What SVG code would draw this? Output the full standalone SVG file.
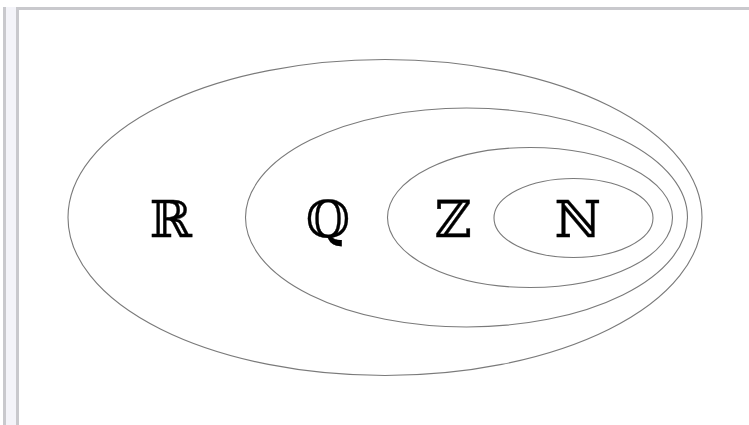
<svg xmlns="http://www.w3.org/2000/svg" width="749" height="425" viewBox="0 0 749 425">
<style>
.set{fill:none;stroke:#7a7a7a;stroke-width:1.1}
.lbl{font-family:"DejaVu Serif",serif;font-size:51px;fill:#000;stroke:#000;stroke-width:0.35;text-anchor:middle}
.frame{fill:#c9c9cd}
</style>
<rect width="749" height="425" fill="#fff"/>
<g id="frame">
<rect class="frame" x="3" y="7" width="3" height="418"/>
<rect x="6" y="7" width="10" height="418" fill="#f4f4f9"/>
<rect class="frame" x="16" y="7" width="3" height="418"/>
<rect class="frame" x="16" y="7" width="733" height="3"/>
</g>
<g id="R">
<ellipse class="set" cx="385" cy="217.5" rx="317" ry="158"/>
<text class="lbl" x="171" y="237">ℝ</text>
</g>
<g id="Q">
<ellipse class="set" cx="466.5" cy="217.5" rx="221" ry="109.5"/>
<text class="lbl" x="328" y="237">ℚ</text>
</g>
<g id="Z">
<ellipse class="set" cx="530" cy="217.5" rx="142.5" ry="70"/>
<text class="lbl" x="453" y="237">ℤ</text>
</g>
<g id="N">
<ellipse class="set" cx="573.5" cy="218" rx="79.5" ry="39.5"/>
<text class="lbl" x="578" y="237">ℕ</text>
</g>
<g id="connectors"/>
</svg>
